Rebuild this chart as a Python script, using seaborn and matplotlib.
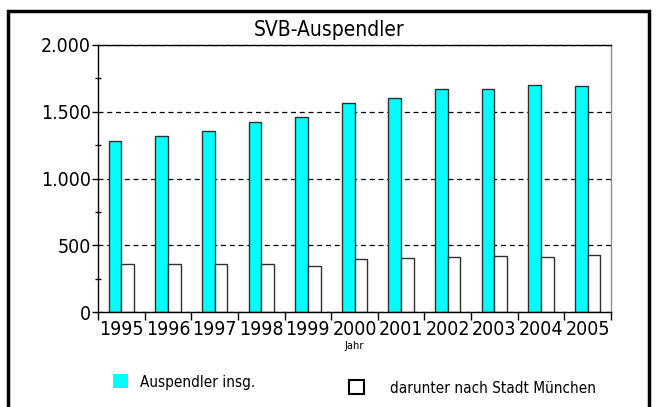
import numpy as np
import pandas as pd
import seaborn as sns
import matplotlib.pyplot as plt
from matplotlib.patches import Rectangle, Patch
from matplotlib.ticker import FuncFormatter, MultipleLocator, FixedLocator

# Daten
jahre = ['1995', '1996', '1997', '1998', '1999', '2000', '2001', '2002', '2003', '2004', '2005']
auspendler = [1278, 1318, 1356, 1423, 1460, 1566, 1602, 1670, 1670, 1699, 1696]
muenchen = [363, 363, 363, 358, 346, 394, 401, 410, 418, 413, 430]
serien = ['Auspendler insg.', 'darunter nach Stadt München']
farben = ['#00FFFF', '#FFFFFF']

df = pd.DataFrame({
    'Jahr': jahre * 2,
    'Wert': auspendler + muenchen,
    'Serie': [serien[0]] * len(jahre) + [serien[1]] * len(jahre),
})

sns.set_style('white')
plt.rcParams['font.family'] = ['DejaVu Sans']
plt.rcParams['font.stretch'] = 'condensed'
plt.rcParams['text.color'] = 'black'
plt.rcParams['xtick.color'] = 'black'
plt.rcParams['ytick.color'] = 'black'
plt.rcParams['axes.labelcolor'] = 'black'

fig = plt.figure(figsize=(6.58, 4.07), dpi=100)
ax = fig.add_axes([98 / 658, 1 - 312 / 407, 513 / 658, 267 / 407])

sns.barplot(data=df, x='Jahr', y='Wert', hue='Serie', ax=ax,
            palette=farben, width=0.545, saturation=1,
            edgecolor='#303030', linewidth=1.0, legend=False)

ax.set_xlim(-0.5, len(jahre) - 0.5)
ax.set_ylim(0, 2000)

# Achsen
for s in ['left', 'bottom', 'top']:
    ax.spines[s].set_color('black')
    ax.spines[s].set_linewidth(1.0)
ax.spines['right'].set_color('#909090')
ax.spines['right'].set_linewidth(1.0)

ax.yaxis.set_major_locator(MultipleLocator(500))
ax.yaxis.set_minor_locator(MultipleLocator(250))
ax.yaxis.set_major_formatter(FuncFormatter(lambda v, p: f'{int(v):,}'.replace(',', '.')))
ax.tick_params(axis='y', which='major', direction='out', length=4, width=1,
               labelsize=14, pad=1, left=True)
ax.tick_params(axis='y', which='minor', direction='inout', length=5, width=1, left=True)

ax.xaxis.set_minor_locator(FixedLocator(np.arange(-0.5, len(jahre), 1.0)))
ax.tick_params(axis='x', which='major', length=0, labelsize=14, pad=6)
ax.tick_params(axis='x', which='minor', direction='out', length=6, width=1, bottom=True)

ax.yaxis.grid(True, linestyle=(0, (4, 3)), color='black', linewidth=0.9)
ax.set_axisbelow(True)

ax.set_xlabel('Jahr', fontsize=8, labelpad=1)
ax.set_ylabel('')

fig.text(0.5, 1 - 30 / 407, 'SVB-Auspendler', ha='center', va='center', fontsize=15)

# Legende: zwei Einträge an festen Stellen
h1 = Patch(facecolor=farben[0], edgecolor='none')
h2 = Patch(facecolor=farben[1], edgecolor='black', linewidth=1.5)
fig.legend([h1], [serien[0]], loc='center left',
           bbox_to_anchor=(99 / 658, 1 - 382 / 407), frameon=False, fontsize=11,
           handlelength=1.0, handleheight=1.0, handletextpad=0.8)
fig.legend([h2], [serien[1]], loc='center left',
           bbox_to_anchor=(335 / 658, 1 - 388 / 407), frameon=False, fontsize=11,
           handlelength=1.0, handleheight=1.0, handletextpad=1.7)

# Rahmen
fig.add_artist(Rectangle((8 / 658, -0.05), 641 / 658, 1.05 - 11 / 407,
                         transform=fig.transFigure, fill=False,
                         edgecolor='black', linewidth=2.5))

fig.savefig('out.png', dpi=100)
